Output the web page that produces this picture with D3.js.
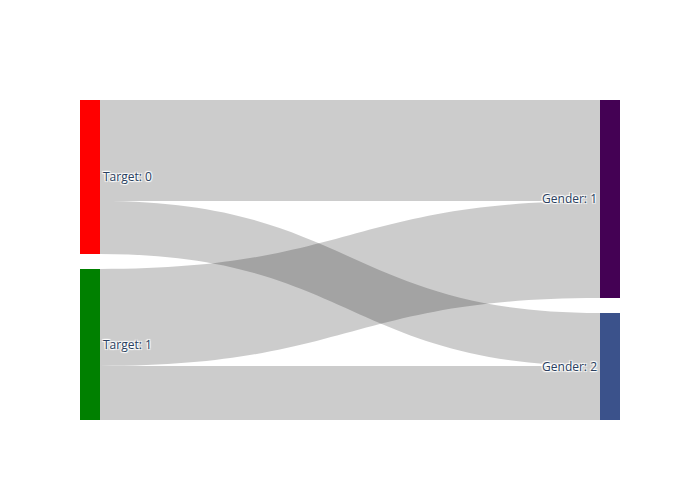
<!DOCTYPE html>
<html>
<head>
<meta charset="utf-8">
<script src="https://cdn.jsdelivr.net/npm/d3@7"></script>
<style>
  body { margin: 0; background: #fff; }
  svg text { font-family: "Open Sans", sans-serif; font-size: 12px; fill: #2a3f5f;
    text-shadow: 1px 1px 1px #fff, -1px -1px 1px #fff, 1px -1px 1px #fff, -1px 1px 1px #fff; }
</style>
</head>
<body>
<svg id="chart" width="700" height="500"></svg>
<script>
const nodeLabels = ["Target: 0", "Target: 1", "Gender: 1", "Gender: 2"];
const nodeColors = ["#ff0000", "#008000", "#440154", "#3b528b"];
const nodeColumns = [0, 0, 1, 1];
const linkSources = [0, 0, 1, 1];
const linkTargets = [2, 3, 2, 3];
const linkValues = [101, 53, 97, 54];

const W = 700, H = 500;
const margin = { l: 80, r: 80, t: 100, b: 80 };
const nodeWidth = 20, nodePad = 15;
const svg = d3.select("#chart");

const nodes = nodeLabels.map((name, i) => ({ i, name, color: nodeColors[i], col: nodeColumns[i], inL: [], outL: [] }));
const links = linkValues.map((v, i) => ({ value: v, source: nodes[linkSources[i]], target: nodes[linkTargets[i]] }));
links.forEach(l => { l.source.outL.push(l); l.target.inL.push(l); });
nodes.forEach(n => { n.value = Math.max(d3.sum(n.inL, l => l.value), d3.sum(n.outL, l => l.value)); });

const cols = d3.groups(nodes, n => n.col).map(d => d[1]);
const innerH = H - margin.t - margin.b;
const k = d3.min(cols, c => (innerH - nodePad * (c.length - 1)) / d3.sum(c, n => n.value));
const vScale = d3.scaleLinear().domain([0, 1]).range([0, k]);
const xScale = d3.scaleLinear().domain([0, cols.length - 1]).range([margin.l, W - margin.r - nodeWidth]);

cols.forEach(c => {
  let y = margin.t;
  const total = d3.sum(c, n => vScale(n.value)) + nodePad * (c.length - 1);
  y += (innerH - total) / 2;
  c.forEach(n => {
    n.x0 = xScale(n.col); n.x1 = n.x0 + nodeWidth;
    n.y0 = y; n.y1 = y + vScale(n.value);
    y = n.y1 + nodePad;
  });
});

nodes.forEach(n => {
  let y = n.y0;
  n.outL.sort((a, b) => a.target.y0 - b.target.y0).forEach(l => { l.sy0 = y; y += vScale(l.value); l.sy1 = y; });
  y = n.y0;
  n.inL.sort((a, b) => a.source.y0 - b.source.y0).forEach(l => { l.ty0 = y; y += vScale(l.value); l.ty1 = y; });
});

function linkPath(l) {
  const x0 = l.source.x1, x1 = l.target.x0;
  const xi = d3.interpolateNumber(x0, x1);
  const c0 = xi(0.5), c1 = xi(0.5);
  return `M${x0},${l.sy0}C${c0},${l.sy0} ${c1},${l.ty0} ${x1},${l.ty0}` +
         `L${x1},${l.ty1}C${c1},${l.ty1} ${c0},${l.sy1} ${x0},${l.sy1}Z`;
}

svg.append("g").selectAll("path").data(links).join("path")
  .attr("d", linkPath)
  .attr("fill", "rgba(0,0,0,0.2)");

const ng = svg.append("g").selectAll("g").data(nodes).join("g");
ng.append("rect")
  .attr("x", d => d.x0).attr("y", d => d.y0)
  .attr("width", nodeWidth).attr("height", d => d.y1 - d.y0)
  .attr("fill", d => d.color);
ng.append("text")
  .attr("x", d => d.col === 0 ? d.x1 + 3 : d.x0 - 3)
  .attr("y", d => (d.y0 + d.y1) / 2)
  .attr("dy", "0.35em")
  .attr("text-anchor", d => d.col === 0 ? "start" : "end")
  .text(d => d.name);
</script>
</body>
</html>
